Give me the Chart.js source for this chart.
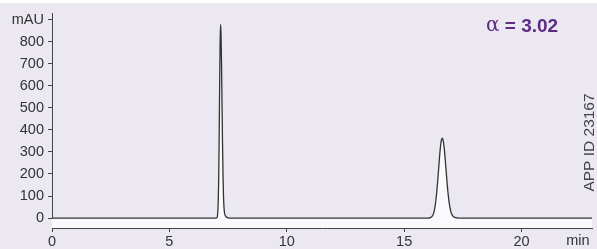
<!DOCTYPE html>
<html>
<head>
<meta charset="utf-8">
<script src="https://cdn.jsdelivr.net/npm/chart.js@4/dist/chart.umd.min.js"></script>
<style>
  html, body { margin:0; padding:0; background:#fff; }
  #wrap { position:relative; width:597px; height:249px; }
  #bg { position:absolute; left:0; top:3px; width:597px; height:246px; background:#ebe8f2; }
  #c { position:absolute; left:0; top:0; }
</style>
</head>
<body>
<div id="wrap">
  <div id="bg"></div>
  <canvas id="c" width="597" height="249"></canvas>
</div>
<script>
/* ---------- data ---------- */
const timeMin = [
  0, 6.98, 7.03, 7.06, 7.08, 7.10, 7.12, 7.14, 7.16, 7.18,
  7.20, 7.22, 7.24, 7.26, 7.28, 7.30, 7.32, 7.35, 7.39, 7.44, 7.50, 7.60,
  16.00, 16.12, 16.22, 16.27, 16.32, 16.37, 16.42, 16.47, 16.52, 16.57, 16.62,
  16.67, 16.72, 16.77, 16.82, 16.87, 16.92, 16.97, 17.02, 17.10, 17.25, 17.40, 23
];
const absorbance = [
  0, 0, 3, 25, 74, 181, 361, 591, 795, 878,
  830, 703, 533, 361, 219, 119, 58, 22, 10, 4, 1, 0,
  0, 2, 13, 28, 56, 99, 158, 227, 294, 344, 362,
  346, 300, 236, 170, 112, 68, 37, 18, 6, 1, 0, 0
];
const xTicks = [0, 5, 10, 15, 20];
const yTicks = [0, 100, 200, 300, 400, 500, 600, 700, 800, 900];
const yUnitTick = 900;       // this tick is labelled with the unit
const xUnitLabel = 'min';
const xUnitAt = 22.4;
const alphaText = ['\u03b1', ' = 3.02'];
const appId = 'APP ID 23167';

const FONT = '"Liberation Sans", Arial, sans-serif';
const INK = '#333';
const Y_MIN = -45;

const points = timeMin.map((t, i) => ({ x: t, y: absorbance[i] }));

const extras = {
  id: 'extras',
  afterDraw(chart){
    const ctx = chart.ctx;
    const xs = chart.scales.x;
    ctx.save();
    // x unit label
    ctx.font = '14.5px ' + FONT;
    ctx.fillStyle = INK;
    ctx.textAlign = 'center';
    ctx.textBaseline = 'top';
    ctx.fillText(xUnitLabel, xs.getPixelForValue(xUnitAt), xs.top + 6);

    // selectivity
    ctx.textBaseline = 'middle';
    ctx.textAlign = 'left';
    ctx.fillStyle = '#5c2d83';
    ctx.font = '20px "DejaVu Serif", serif';
    let x = 486;
    ctx.fillText(alphaText[0], x, 26);
    x += ctx.measureText(alphaText[0]).width;
    ctx.font = 'bold 19px ' + FONT;
    ctx.fillText(alphaText[1], x, 27);

    // vertical id
    ctx.translate(590, 142.5);
    ctx.rotate(-Math.PI / 2);
    ctx.textAlign = 'center';
    ctx.fillStyle = '#444';
    ctx.font = '15.5px ' + FONT;
    ctx.fillText(appId, 0, 0);
    ctx.restore();
  }
};

new Chart(document.getElementById('c'), {
  type: 'line',
  data: {
    datasets: [{
      data: points,
      borderColor: INK,
      borderWidth: 1.3,
      backgroundColor: '#fafafd',
      fill: { value: Y_MIN },
      pointRadius: 0,
      cubicInterpolationMode: 'monotone'
    }]
  },
  options: {
    responsive: false,
    animation: false,
    events: [],
    layout: { padding: { left: 0, top: 13, right: 5, bottom: 0 } },
    plugins: { legend: { display: false }, tooltip: { enabled: false } },
    scales: {
      x: {
        type: 'linear',
        min: 0, max: 23,
        afterBuildTicks: s => { s.ticks = xTicks.map(v => ({ value: v })); },
        afterFit: s => { s.height = 21; },
        border: { color: '#444', width: 1 },
        grid: { drawOnChartArea: false, drawTicks: true, tickLength: 4, color: '#444' },
        ticks: { color: INK, font: { family: FONT, size: 14.5 }, padding: 1, maxRotation: 0 }
      },
      y: {
        min: Y_MIN, max: 930,
        afterBuildTicks: s => { s.ticks = yTicks.map(v => ({ value: v })); },
        afterFit: s => { s.width = 52; },
        border: { color: '#444', width: 1 },
        grid: { drawOnChartArea: false, drawTicks: true, tickLength: 4, color: '#444' },
        ticks: {
          color: INK, font: { family: FONT, size: 14.5 }, padding: 4,
          callback: v => v === yUnitTick ? 'mAU' : String(v)
        }
      }
    }
  },
  plugins: [extras]
});
</script>
</body>
</html>
